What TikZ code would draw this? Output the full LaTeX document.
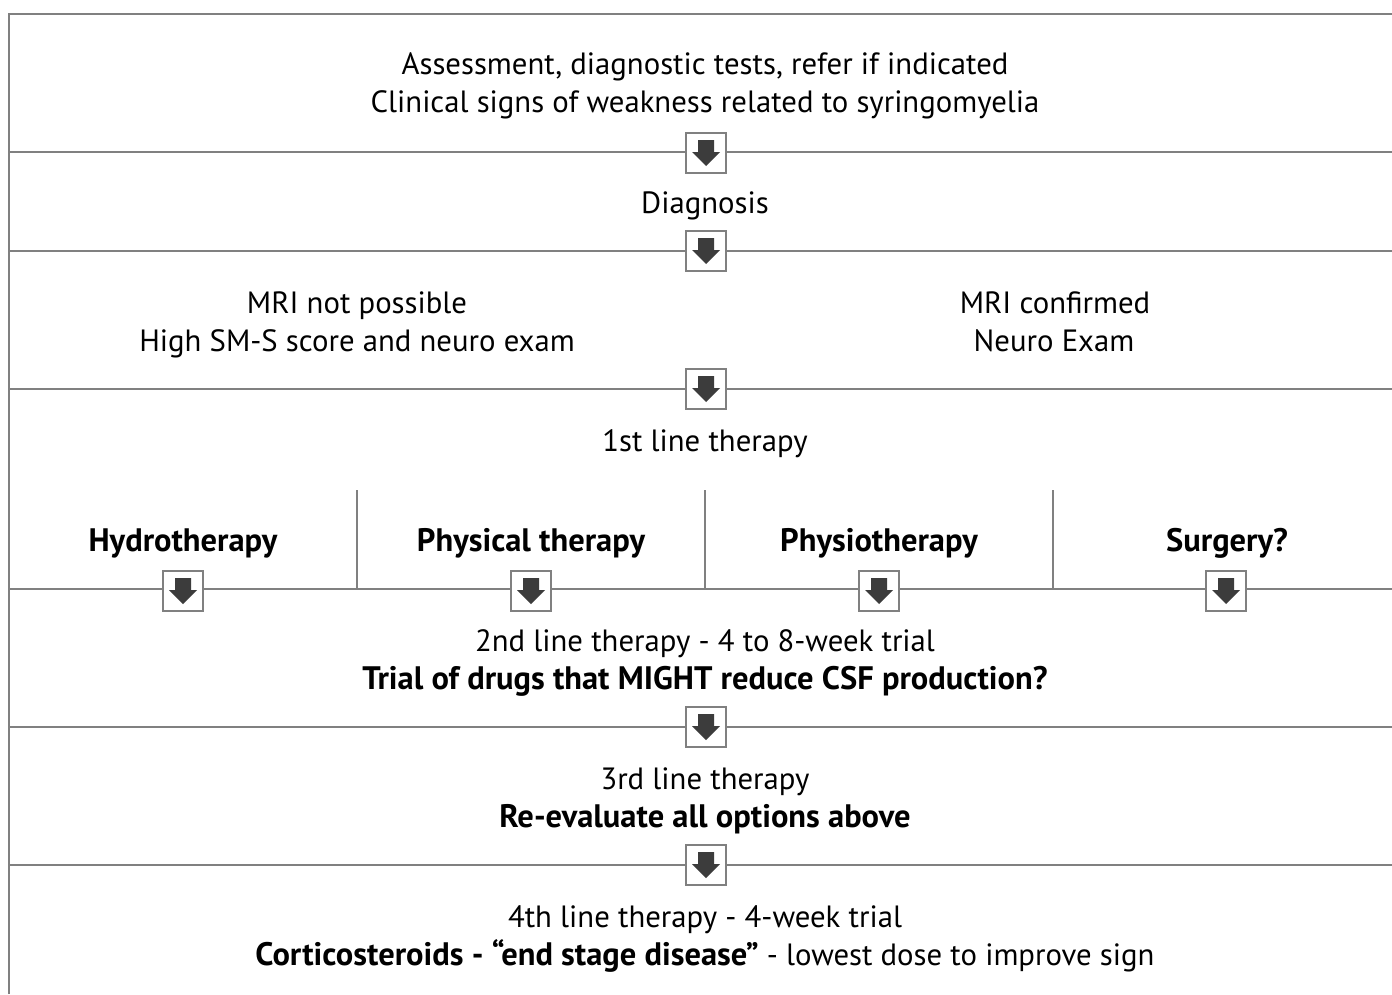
\documentclass[tikz,border=0pt]{standalone}
\usepackage{fontspec}
\setmainfont{PT Sans}
\definecolor{rulegray}{HTML}{808080}
\definecolor{arrowgray}{HTML}{3C3C3C}
\newcommand{\strongtext}[1]{{\fontsize{18.5}{21.6}\selectfont\bfseries #1}}

\begin{document}
\begin{tikzpicture}[x=0.02cm, y=-0.02cm,
    rule/.style={draw=rulegray, line width=1.1pt},
    downbox/.style={draw=rulegray, line width=0.9pt, fill=white, minimum size=0.8cm, inner sep=0pt,
      path picture={\fill[arrowgray] ([shift={(-8,-13)}]path picture bounding box.center)
        -- ++(16,0) -- ++(0,12) -- ++(6,0) -- ++(-14,14) -- ++(-14,-14) -- ++(6,0) -- cycle;}},
    txt/.style={font=\fontsize{17.5}{21.6}\selectfont, anchor=base, inner sep=0pt},
    bold/.style={txt, font=\fontsize{18.5}{21.6}\selectfont\bfseries}]

    \useasboundingbox (0,0) rectangle (1392,994);

    % Frame: left edge and row rules
    \coordinate (top left) at (9,14);
    \coordinate (bottom left) at (9,994);
    \coordinate (top right) at (1392,14);
    \coordinate (l1) at (9,152);   \coordinate (r1) at (1392,152);
    \coordinate (l2) at (9,251);   \coordinate (r2) at (1392,251);
    \coordinate (l3) at (9,389);   \coordinate (r3) at (1392,389);
    \coordinate (l4) at (9,589);   \coordinate (r4) at (1392,589);
    \coordinate (l5) at (9,727);   \coordinate (r5) at (1392,727);
    \coordinate (l6) at (9,865);   \coordinate (r6) at (1392,865);

    \draw[rule] (bottom left) -- (top left) -- (top right);
    \draw[rule] (l1) -- (r1);
    \draw[rule] (l2) -- (r2);
    \draw[rule] (l3) -- (r3);
    \draw[rule] (l4) -- (r4);
    \draw[rule] (l5) -- (r5);
    \draw[rule] (l6) -- (r6);

    % Column separators of the 1st line options
    \coordinate (s1 top) at (357,490);  \coordinate (s1 bot) at (357,589);
    \coordinate (s2 top) at (705,490);  \coordinate (s2 bot) at (705,589);
    \coordinate (s3 top) at (1053,490); \coordinate (s3 bot) at (1053,589);
    \draw[rule] (s1 top) -- (s1 bot);
    \draw[rule] (s2 top) -- (s2 bot);
    \draw[rule] (s3 top) -- (s3 bot);

    % Rows (text placed on its baseline)
    \node[txt] (assess) at (705,74) {Assessment, diagnostic tests, refer if indicated};
    \node[txt] (clinical) at (705,112) {Clinical signs of weakness related to syringomyelia};
    \node[txt] (diagnosis) at (705,213) {Diagnosis};
    \node[txt] (nomri) at (357,313) {MRI not possible};
    \node[txt] (smscore) at (357,351) {High SM-S score and neuro exam};
    \node[txt] (mri) at (1055,313) {MRI confirmed};
    \node[txt] (neuro) at (1054,351) {Neuro Exam};
    \node[txt] (first) at (705,451) {1st line therapy};

    % 1st line options
    \node[bold] (hydro) at (183,551) {Hydrotherapy};
    \node[bold] (physical) at (531,551) {Physical therapy};
    \node[bold] (physio) at (879,551) {Physiotherapy};
    \node[bold] (surgery) at (1227,551) {Surgery?};

    \node[txt] (second) at (705,651) {2nd line therapy - 4 to 8-week trial};
    \node[bold] (drugs) at (705,689) {Trial of drugs that MIGHT reduce CSF production?};
    \node[txt] (third) at (705,789) {3rd line therapy};
    \node[bold] (reeval) at (705,827) {Re-evaluate all options above};
    \node[txt] (fourth) at (705,927) {4th line therapy - 4-week trial};
    \node[txt] (steroids) at (705,965) {\strongtext{Corticosteroids - “end stage disease”} - lowest dose to improve sign};

    % Down arrows on the rules
    \node[downbox] (down1) at (706,153) {};
    \node[downbox] (down2) at (706,251) {};
    \node[downbox] (down3) at (706,389) {};
    \node[downbox] (hydro down) at (183,591) {};
    \node[downbox] (physical down) at (531,591) {};
    \node[downbox] (physio down) at (879,591) {};
    \node[downbox] (surgery down) at (1226,591) {};
    \node[downbox] (down5) at (706,727) {};
    \node[downbox] (down6) at (706,865) {};
\end{tikzpicture}
\end{document}
